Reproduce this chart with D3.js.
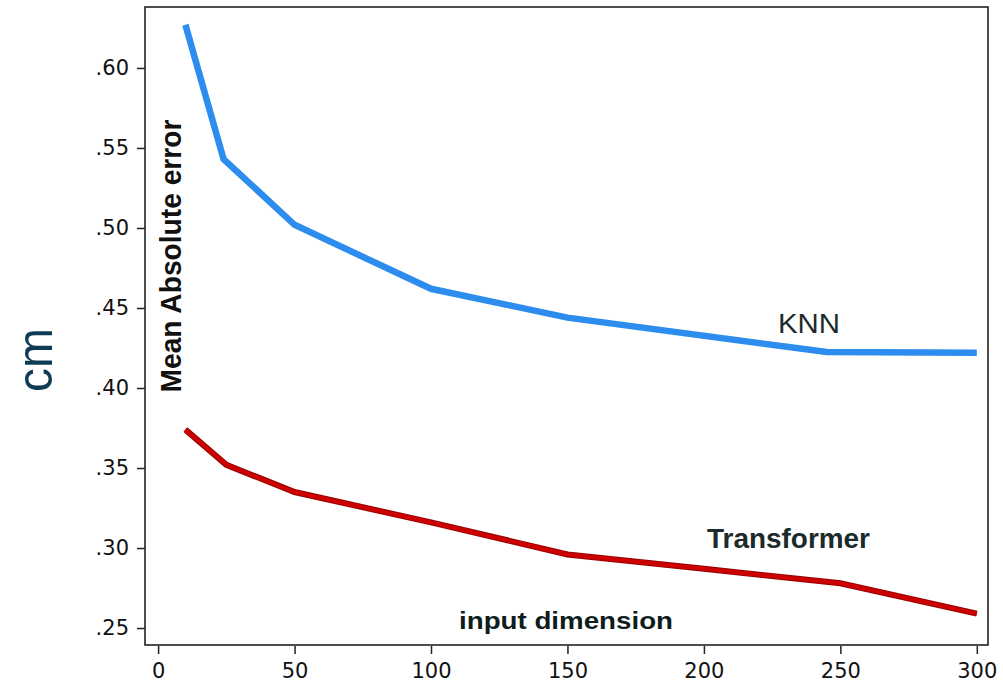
<!DOCTYPE html>
<html>
<head>
<meta charset="utf-8">
<script src="https://cdn.jsdelivr.net/npm/d3@7"></script>
<style>
  body { margin: 0; background: #fff; }
</style>
</head>
<body>
<div id="chart"></div>
<script>
const dims = [10, 24, 50, 100, 150, 245, 300]
const knn = [0.627, 0.543, 0.502, 0.462, 0.444, 0.4225, 0.422]

const transDims = [10, 25, 50, 100, 150, 200, 250, 300]
const transformer = [0.374, 0.352, 0.335, 0.316, 0.296, 0.287, 0.278, 0.259]

const xTicks = [0, 50, 100, 150, 200, 250, 300]
const yTicks = [0.25, 0.30, 0.35, 0.40, 0.45, 0.50, 0.55, 0.60]

const width = 1003
const height = 684
const box = { left: 145, right: 988, top: 7, bottom: 645 }

const svg = d3.select('#chart').append('svg').attr('width', width).attr('height', height)

const x = d3.scaleLinear().domain([-4.8, 304.1]).range([box.left, box.right])
const y = d3.scaleLinear().domain([0.2394, 0.6381]).range([box.bottom, box.top])

// frame
svg.append('rect')
  .attr('x', box.left).attr('y', box.top)
  .attr('width', box.right - box.left).attr('height', box.bottom - box.top)
  .attr('fill', 'none').attr('stroke', '#222').attr('stroke-width', 1.6)

const xAxis = svg.append('g')
  .attr('transform', `translate(0,${box.bottom + 1})`)
  .call(d3.axisBottom(x).tickValues(xTicks).tickSize(8).tickPadding(9).tickFormat(d3.format('d')))
xAxis.select('.domain').remove()

const yAxis = svg.append('g')
  .attr('transform', `translate(${box.left},0)`)
  .call(d3.axisLeft(y).tickValues(yTicks).tickSize(8).tickPadding(8).tickFormat(d => d3.format('.2f')(d).replace(/^0/, '')))
yAxis.select('.domain').remove()

svg.selectAll('.tick line').attr('stroke', '#222').attr('stroke-width', 1.5)
svg.selectAll('.tick text')
  .attr('font-family', 'DejaVu Sans')
  .attr('font-size', 21)
  .attr('fill', '#111')

const line = d3.line().x(d => x(d[0])).y(d => y(d[1]))

svg.append('path')
  .datum(dims.map((d, i) => [d, knn[i]]))
  .attr('d', line)
  .attr('fill', 'none')
  .attr('stroke', '#2c8dee')
  .attr('stroke-width', 6.5)

svg.append('path')
  .datum(transDims.map((d, i) => [d, transformer[i]]))
  .attr('d', line)
  .attr('fill', 'none')
  .attr('stroke', '#9a0000')
  .attr('stroke-width', 6)
svg.append('path')
  .datum(transDims.map((d, i) => [d, transformer[i]]))
  .attr('d', line)
  .attr('fill', 'none')
  .attr('stroke', '#cc0000')
  .attr('stroke-width', 4)

// labels
function label(txt, opts) {
  const t = svg.append('text')
    .text(txt)
    .attr('font-family', 'Liberation Sans, Arial, sans-serif')
    .attr('font-size', opts.size)
    .attr('font-weight', opts.bold ? 'bold' : 'normal')
    .attr('fill', opts.color || '#1b2a2a')
    .attr('text-anchor', opts.anchor || 'start')
    .attr('textLength', opts.len)
    .attr('lengthAdjust', 'spacingAndGlyphs')
  if (opts.rotate) {
    t.attr('transform', `translate(${opts.x},${opts.y}) rotate(-90)`)
  } else {
    t.attr('x', opts.x).attr('y', opts.y)
  }
  return t
}

label('KNN', { x: 778, y: 333, size: 28, len: 62 })
label('Transformer', { x: 707, y: 548, size: 27, bold: true, len: 163 })
label('input dimension', { x: 459, y: 629, size: 24, bold: true, len: 214, color: '#0f1c1c' })
label('Mean Absolute error', { x: 181, y: 256, size: 30, bold: true, len: 273, anchor: 'middle', rotate: true, color: '#111' })
label('cm', { x: 52, y: 360, size: 50, len: 64, anchor: 'middle', rotate: true, color: '#0f3c54' })
</script>
</body>
</html>
